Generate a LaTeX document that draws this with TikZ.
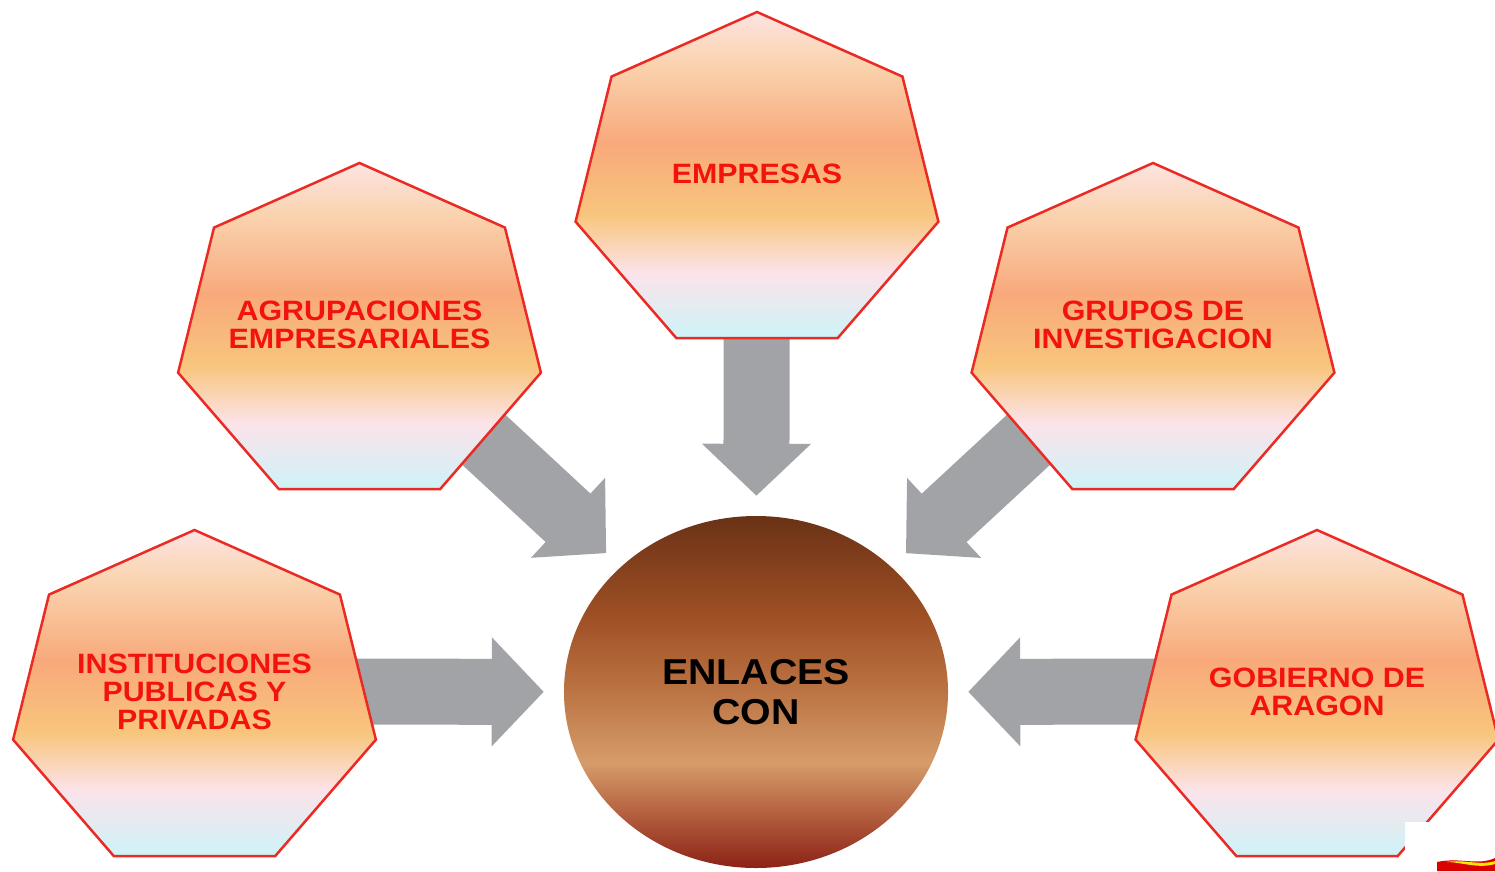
\documentclass[tikz,border=0pt]{standalone}
\usepackage{fontspec}
\setmainfont{Liberation Sans}
\usetikzlibrary{arrows.meta,shapes.geometric,backgrounds}
\definecolor{hotred}{HTML}{EC2A24}
\definecolor{textred}{HTML}{F2140C}
\definecolor{arrowgray}{HTML}{A2A3A6}
\definecolor{heptpink}{HTML}{FDE4E2}
\definecolor{heptpeach}{HTML}{FAD3AE}
\definecolor{heptsalmon}{HTML}{F8A97B}
\definecolor{heptgold}{HTML}{F8C57C}
\definecolor{heptblush}{HTML}{FBE3EA}
\definecolor{heptcyan}{HTML}{CDF3F8}
\definecolor{hubtop}{HTML}{6A3216}
\definecolor{hubrust}{HTML}{9E4F24}
\definecolor{hubmid}{HTML}{BC7444}
\definecolor{hubtan}{HTML}{D59C6A}
\definecolor{hubclay}{HTML}{BA6A46}
\definecolor{hubbottom}{HTML}{8C2216}
\pgfdeclareverticalshading{heptshade}{100bp}{color(0bp)=(heptcyan); color(25bp)=(heptcyan);
  color(35bp)=(heptblush); color(44bp)=(heptgold); color(55bp)=(heptsalmon);
  color(67bp)=(heptpeach); color(75bp)=(heptpink); color(100bp)=(heptpink)}
\pgfdeclareverticalshading{hubshade}{100bp}{color(0bp)=(hubbottom); color(25bp)=(hubbottom);
  color(34bp)=(hubclay); color(40bp)=(hubtan); color(50bp)=(hubmid);
  color(61bp)=(hubrust); color(75bp)=(hubtop); color(100bp)=(hubtop)}
\tikzset{
  hept/.style={regular polygon,regular polygon sides=7,minimum size=343pt,
               inner sep=0pt,outer sep=0pt,draw=hotred,line width=2.5pt,
               shading=heptshade,xscale=1.085},
  hepttext/.style={align=center,text=textred,xscale=1.085,
                   font=\fontsize{28}{28}\selectfont\bfseries},
  bigflow/.style={draw=arrowgray,line width=66pt,
                  -{Triangle[width=106pt,length=52pt]},shorten >=20pt}
}
\begin{document}
\begin{tikzpicture}[
  x=1pt,y=-1pt,
  hubnode/.style={circle,minimum size=352pt,inner sep=0pt,shading=hubshade,
                  xscale=1.091,align=center,font=\fontsize{36}{40}\selectfont\bfseries}
]
  \useasboundingbox (0,0) rectangle (1495,871);
  \node[hubnode] (hub) at (756,692) {ENLACES\\CON};
  \node[hept] (emp) at (757,183.5) {};
  \node[hept] (agr) at (359.5,334.5) {};
  \node[hept] (gru) at (1153,334.5) {};
  \node[hept] (inst) at (194.5,701.5) {};
  \node[hept] (gob) at (1317,701.5) {};
  \node[hepttext] (empT) at ([yshift=10pt]emp.center) {EMPRESAS};
  \node[hepttext] (agrT) at ([yshift=10pt]agr.center) {AGRUPACIONES\\EMPRESARIALES};
  \node[hepttext] (gruT) at ([yshift=10pt]gru.center) {GRUPOS DE\\INVESTIGACION};
  \node[hepttext] (instT) at ([yshift=10pt]inst.center) {INSTITUCIONES\\PUBLICAS Y\\PRIVADAS};
  \node[hepttext] (gobT) at ([yshift=10pt]gob.center) {GOBIERNO DE\\ARAGON};
  \begin{pgfonlayer}{background}
    \foreach \a in {empT,agrT,gruT,instT,gobT}
      \draw[bigflow] (\a)--(hub);
  \end{pgfonlayer}
  \fill[white] (1405,822) rectangle (1495,871);
  \fill[red!85!black] (1437,871) -- (1437,862) .. controls (1460,857) and (1478,866) .. (1495,858) -- (1495,871) -- cycle;
  \fill[yellow!90!orange] (1446,862) .. controls (1465,859) and (1480,866) .. (1495,861) -- (1495,864) .. controls (1478,869) and (1462,862) .. cycle;
\end{tikzpicture}
\end{document}
